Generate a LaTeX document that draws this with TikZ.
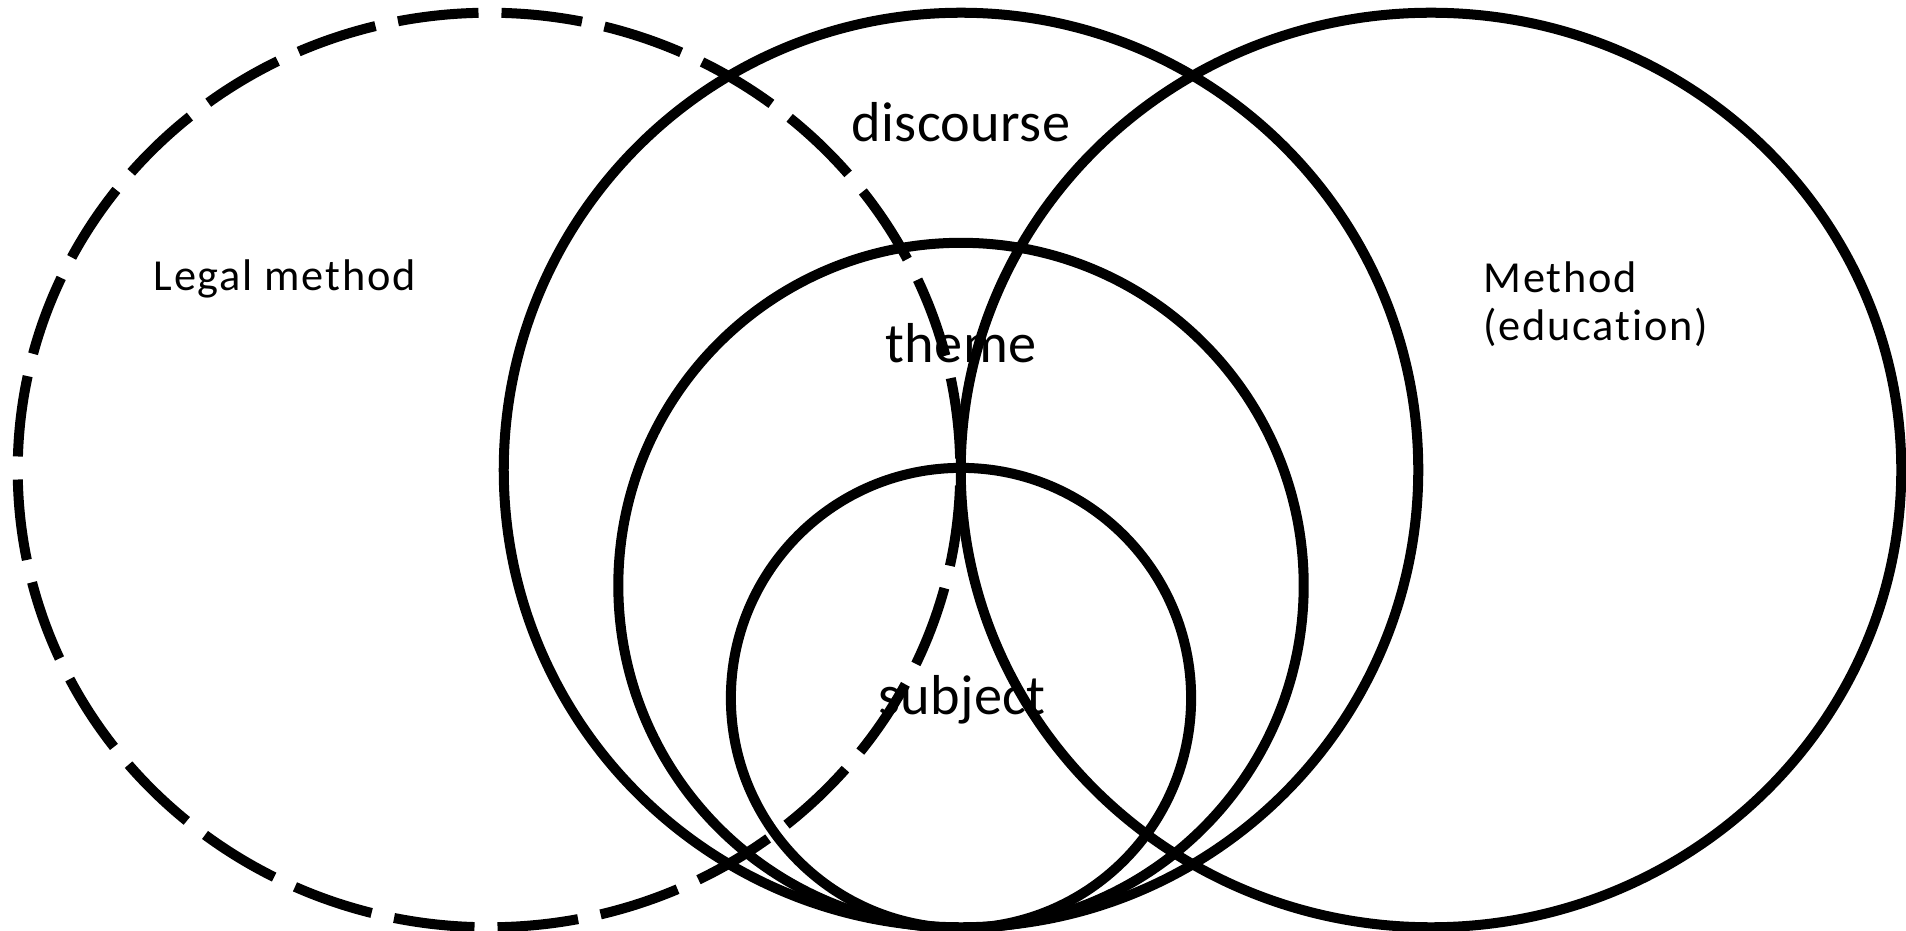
\documentclass[tikz,border=0pt]{standalone}
\usepackage{fontspec}
\setmainfont[Ligatures=NoCommon]{Carlito}
\newfontfamily\spaced[LetterSpace=4,Ligatures=NoCommon]{Carlito}
\newfontfamily\midspaced[LetterSpace=0.6,Ligatures=NoCommon]{Carlito}
\begin{document}
\begin{tikzpicture}[x=0.01cm,y=-0.01cm]
\tikzset{
  ring/.style={draw=black, line width=1mm},
  legal/.style={ring, dash pattern=on 0.81cm off 0.23cm, dash phase=0.925cm},
  lbl/.style={font=\midspaced\fontsize{16}{19}\selectfont, inner sep=0pt, anchor=base},
  side/.style={font=\spaced\fontsize{12.6}{13.7}\selectfont, inner sep=0pt, anchor=base west, align=left}
}
\useasboundingbox (0,0) rectangle (1906,931);
\coordinate (cLegal) at (489,470);
\coordinate (cEdu) at (1431,470);
\coordinate (cDisc) at (961,470);
\coordinate (cTheme) at (961,585.5);
\coordinate (cSubj) at (961,698);
\draw[legal] (cLegal) ellipse [x radius=4.71cm, y radius=4.57cm];
\draw[ring] (cEdu) ellipse [x radius=4.70cm, y radius=4.57cm];
\draw[ring] (cDisc) circle [radius=4.57cm];
\draw[ring] (cTheme) circle [radius=3.425cm];
\draw[ring] (cSubj) circle [radius=2.30cm];
\node[lbl] (discourse) at (961,142) {discourse};
\node[lbl] (theme) at (961,363) {theme};
\node[lbl] (subject) at (962,715) {subject};
\node[side] (legalm) at (153,291) {Legal method};
\node[side] (method) at (1483,341) {Method\\(education)};
\end{tikzpicture}
\end{document}
